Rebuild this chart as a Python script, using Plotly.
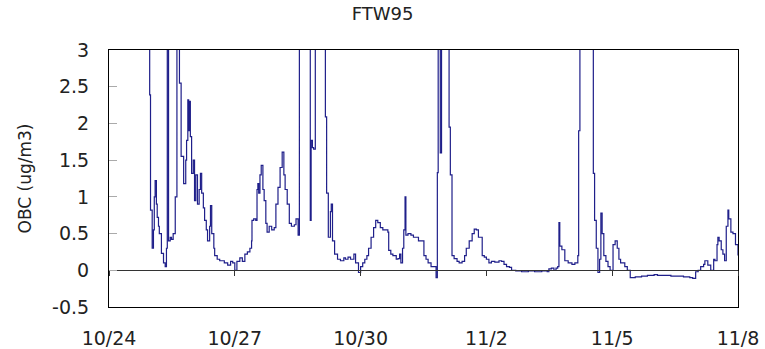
import plotly.graph_objects as go
import pandas as pd

TITLE = "FTW95"
Y_TITLE = "OBC (ug/m3)"
START = "2004-10-24"
END = "2004-11-08"
X_TICK_LABELS = ["10/24", "10/27", "10/30", "11/2", "11/5", "11/8"]
X_TICK_DATES = ["2004-10-24", "2004-10-27", "2004-10-30", "2004-11-02", "2004-11-05", "2004-11-08"]
Y_TICKS = [-0.5, 0, 0.5, 1, 1.5, 2, 2.5, 3]
Y_TICK_LABELS = ["-0.5", "0", "0.5", "1", "1.5", "2", "2.5", "3"]

# days since 10/24 00:00
DAYS = [0.96, 0.97, 0.99, 1.03, 1.06, 1.08, 1.10, 1.13, 1.15, 1.18, 1.20, 1.25, 1.30, 1.34, 1.37, 1.39,
        1.42, 1.46, 1.49, 1.53, 1.58, 1.62, 1.68, 1.72, 1.78, 1.83, 1.85, 1.88, 1.90, 1.92, 1.94, 1.97,
        2.01, 2.04, 2.07, 2.09, 2.11, 2.15, 2.18, 2.21, 2.25, 2.28, 2.32, 2.35, 2.40, 2.42, 2.45, 2.50,
        2.52, 2.58, 2.64, 2.75, 2.83, 2.90, 2.95, 3.00, 3.05, 3.12, 3.18, 3.24, 3.30, 3.36, 3.40, 3.41,
        3.45, 3.50, 3.53, 3.55, 3.57, 3.60, 3.63, 3.67, 3.70, 3.74, 3.77, 3.82, 3.88, 3.94, 3.98, 4.03,
        4.08, 4.13, 4.17, 4.20, 4.25, 4.30, 4.35, 4.42, 4.46, 4.51, 4.54, 4.78, 4.80, 4.82, 4.85, 4.88,
        4.92, 5.14, 5.16, 5.19, 5.23, 5.28, 5.30, 5.33, 5.38, 5.45, 5.52, 5.60, 5.64, 5.70, 5.76, 5.84,
        5.88, 5.95, 6.00, 6.05, 6.10, 6.15, 6.19, 6.25, 6.31, 6.36, 6.41, 6.47, 6.53, 6.60, 6.65, 6.67,
        6.72, 6.77, 6.85, 6.89, 6.93, 6.96, 7.00, 7.03, 7.06, 7.08, 7.13, 7.20, 7.26, 7.32, 7.38, 7.44,
        7.51, 7.56, 7.61, 7.68, 7.73, 7.80, 7.83, 7.85, 7.90, 7.93, 8.08, 8.11, 8.14, 8.18, 8.23, 8.30,
        8.35, 8.42, 8.48, 8.52, 8.59, 8.66, 8.71, 8.76, 8.81, 8.88, 8.90, 8.95, 9.00, 9.06, 9.12, 9.20,
        9.30, 9.36, 9.42, 9.48, 9.55, 9.60, 9.70, 9.84, 10.00, 10.15, 10.32, 10.45, 10.49, 10.55, 10.61, 10.66,
        10.70, 10.73, 10.75, 10.80, 10.87, 10.95, 11.04, 11.11, 11.18, 11.20, 11.23, 11.52, 11.55, 11.58, 11.62, 11.66,
        11.70, 11.73, 11.76, 11.80, 11.85, 11.90, 11.95, 12.02, 12.07, 12.12, 12.16, 12.20, 12.30, 12.36, 12.43, 12.55,
        12.70, 12.84, 13.00, 13.08, 13.25, 13.40, 13.56, 13.70, 13.85, 13.92, 13.99, 14.05, 14.11, 14.18, 14.21, 14.28,
        14.35, 14.42, 14.45, 14.50, 14.52, 14.55, 14.60, 14.64, 14.68, 14.72, 14.76, 14.78, 14.83, 14.88, 14.94, 15.00]

OBC = [6.0, 2.39, 0.82, 0.30, 0.55, 1.00, 1.22, 0.90, 0.72, 0.60, 0.50, 0.23, 0.10, 0.05, 0.30, 6.0,
       0.40, 0.45, 0.42, 0.50, 1.00, 6.0, 2.55, 1.55, 1.18, 1.50, 1.77, 2.32, 1.90, 2.30, 1.82, 1.32,
       1.50, 0.95, 1.30, 1.30, 0.90, 1.10, 1.32, 1.05, 0.85, 0.68, 0.55, 0.40, 0.60, 0.88, 0.50, 0.30,
       0.20, 0.15, 0.13, 0.10, 0.07, 0.12, 0.10, 0.00, 0.12, 0.17, 0.12, 0.22, 0.25, 0.30, 0.40, 0.68,
       0.70, 0.68, 1.10, 1.18, 1.05, 1.30, 1.43, 1.10, 0.95, 0.64, 0.52, 0.60, 0.55, 0.58, 0.90, 1.13,
       1.40, 1.61, 1.30, 1.10, 0.90, 0.64, 0.60, 0.62, 0.70, 0.48, 6.0, 6.0, 0.68, 1.77, 1.67, 1.65,
       6.0, 6.0, 2.09, 1.05, 0.45, 0.80, 0.90, 0.40, 0.22, 0.15, 0.13, 0.17, 0.15, 0.18, 0.15, 0.22,
       0.10, -0.03, 0.05, 0.10, 0.15, 0.20, 0.30, 0.45, 0.58, 0.68, 0.65, 0.58, 0.55, 0.55, 0.52, 0.27,
       0.22, 0.20, 0.15, 0.16, 0.22, 0.10, 0.30, 0.55, 1.00, 0.48, 0.50, 0.48, 0.45, 0.45, 0.40, 0.40,
       0.20, 0.15, 0.10, 0.05, 0.05, -0.10, 1.33, 6.0, 1.60, 6.0, 6.0, 1.95, 1.30, 0.20, 0.16, 0.12,
       0.10, 0.12, 0.20, 0.30, 0.40, 0.50, 0.56, 0.55, 0.45, 0.45, 0.20, 0.18, 0.15, 0.10, 0.12, 0.11,
       0.13, 0.12, 0.08, 0.05, 0.04, 0.00, -0.01, -0.02, -0.01, -0.02, -0.01, -0.02, 0.02, 0.03, 0.00, 0.03,
       0.05, 0.65, 0.33, 0.28, 0.13, 0.10, 0.08, 0.10, 0.20, 1.90, 6.0, 6.0, 1.32, 0.68, 0.30, -0.03,
       0.15, 0.78, 0.50, 0.20, 0.12, 0.05, 0.00, 0.35, 0.40, 0.30, 0.15, 0.10, 0.05, 0.00, -0.10, -0.09,
       -0.08, -0.07, -0.06, -0.07, -0.07, -0.08, -0.08, -0.09, -0.10, -0.11, -0.02, 0.00, 0.05, 0.08, 0.13, 0.07,
       0.00, 0.15, 0.13, 0.35, 0.45, 0.40, 0.28, 0.22, 0.13, 0.60, 0.82, 0.70, 0.52, 0.50, 0.35, 0.20]

base = pd.Timestamp(START)
times = base + pd.to_timedelta(DAYS, unit="D")

FONT = "DejaVu Sans"

fig = go.Figure()
fig.add_trace(go.Scatter(x=times, y=OBC, mode="lines",
                         line=dict(color="#1f1f8a", width=1.2, shape="hv"), showlegend=False))

fig.update_layout(
    width=765, height=349,
    margin=dict(l=109, r=27, t=50, b=42),
    paper_bgcolor="white", plot_bgcolor="white",
    title=dict(text=TITLE, x=0.5, xanchor="center", y=0.96, yanchor="middle",
               font=dict(family=FONT, size=18, color="#222")),
    font=dict(family=FONT, color="#222"),
    xaxis=dict(range=[START, END], tickvals=X_TICK_DATES, ticktext=X_TICK_LABELS,
               showgrid=False, zeroline=False, showline=True, linecolor="black", linewidth=1,
               mirror=True, ticks="", tickfont=dict(size=19), ticklabelstandoff=14,
               automargin=False),
    xaxis2=dict(overlaying="x", matches="x", anchor="free", position=0.5 / 3.5, side="bottom",
                showline=True, linecolor="#333", linewidth=1.2, ticks="outside", ticklen=5,
                tickcolor="#333", tickvals=X_TICK_DATES, showticklabels=False, showgrid=False,
                zeroline=False, automargin=False),
    yaxis=dict(range=[-0.5, 3], tickvals=Y_TICKS, ticktext=Y_TICK_LABELS,
               showgrid=False, zeroline=False, showline=True, linecolor="black", linewidth=1,
               mirror=True, ticks="inside", ticklen=8, tickcolor="#aaa",
               tickfont=dict(size=19), ticklabelstandoff=15, automargin=False,
               title=dict(text=Y_TITLE, font=dict(size=17), standoff=16)),
)
# invisible trace so the zero-line axis renders
fig.add_trace(go.Scatter(x=[times[0]], y=[0], xaxis="x2", mode="markers",
                         marker=dict(opacity=0), showlegend=False, hoverinfo="skip"))

fig.write_html("out.html")
